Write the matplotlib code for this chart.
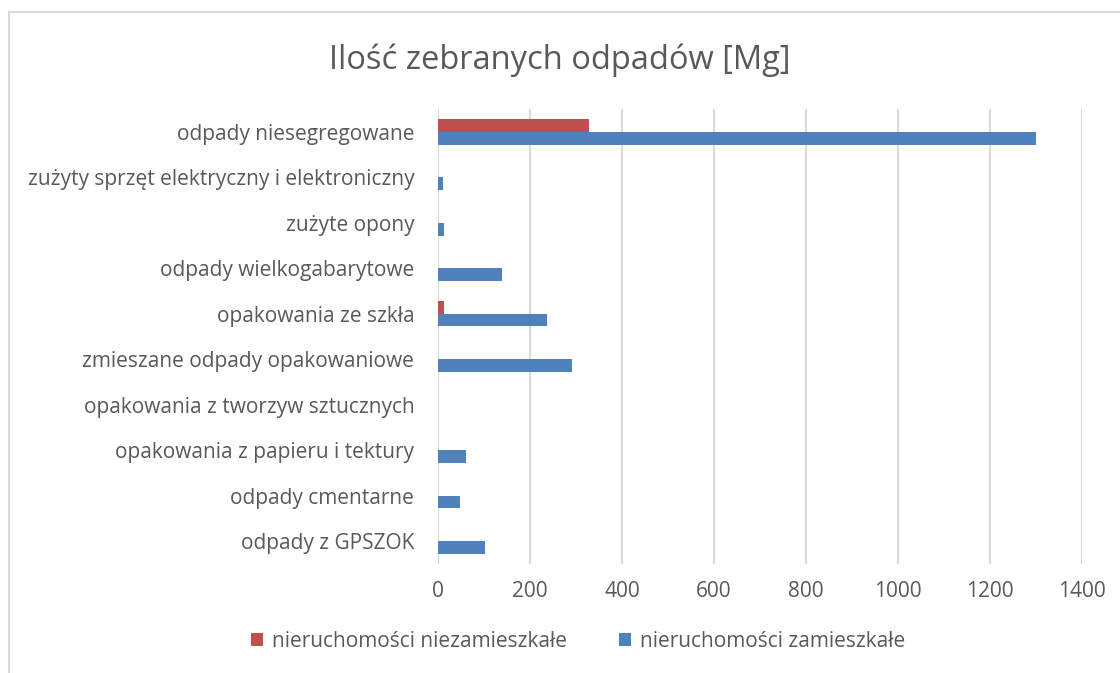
import matplotlib.pyplot as plt
import numpy as np
from matplotlib.lines import Line2D

# Data (Mg)
categories = [
    "odpady niesegregowane",
    "zużyty sprzęt elektryczny i elektroniczny",
    "zużyte opony",
    "odpady wielkogabarytowe",
    "opakowania ze szkła",
    "zmieszane odpady opakowaniowe",
    "opakowania z tworzyw sztucznych",
    "opakowania z papieru i tektury",
    "odpady cmentarne",
    "odpady z GPSZOK",
]
niezamieszkale = [328, 0, 0, 0, 13, 0, 0, 0, 0, 0]
zamieszkale = [1300, 11, 13, 139, 238, 292, 0.5, 62, 48, 103]
x_ticks = [0, 200, 400, 600, 800, 1000, 1200, 1400]

RED = "#C0504D"
BLUE = "#4F81BD"
TEXT = "#595959"
GRID = "#D9D9D9"

plt.rcParams["font.family"] = ["Open Sans", "DejaVu Sans"]

fig = plt.figure(figsize=(11.2, 6.73), dpi=100)
ax = fig.add_axes([0.391, 0.162, 0.575, 0.676])

n = len(categories)
y = np.arange(n)[::-1]
h = 0.28
ax.barh(y + h / 2, niezamieszkale, height=h, color=RED,
        label="nieruchomości niezamieszkałe", zorder=3)
ax.barh(y - h / 2, zamieszkale, height=h, color=BLUE,
        label="nieruchomości zamieszkałe", zorder=3)

ax.set_xlim(0, 1400)
ax.set_ylim(-0.5, n - 0.5)
ax.set_xticks(x_ticks)
ax.set_yticks(y)
ax.set_yticklabels(categories)
ax.tick_params(axis="both", length=0, labelsize=15, colors=TEXT)
ax.tick_params(axis="y", pad=17)
ax.tick_params(axis="x", pad=12)
for s in ax.spines.values():
    s.set_visible(False)
ax.xaxis.grid(True, color=GRID, linewidth=1.5, zorder=0)
ax.set_axisbelow(True)

fig.text(0.5, 0.911, "Ilość zebranych odpadów [Mg]", ha="center", va="center",
         fontsize=23.5, color=TEXT)

fig.legend(loc="center", bbox_to_anchor=(0.516, 0.047), ncol=2, frameon=False,
           fontsize=15, labelcolor=TEXT, handlelength=0.6, handleheight=0.6,
           handletextpad=0.4, columnspacing=2.5)

# chart border
fig.add_artist(Line2D([9 / 1120, 9 / 1120], [0, 1 - 12 / 673],
                      transform=fig.transFigure, color=GRID, linewidth=1.5))
fig.add_artist(Line2D([9 / 1120, 1], [1 - 12 / 673, 1 - 12 / 673],
                      transform=fig.transFigure, color=GRID, linewidth=1.5))

fig.savefig("out.png", dpi=100)
